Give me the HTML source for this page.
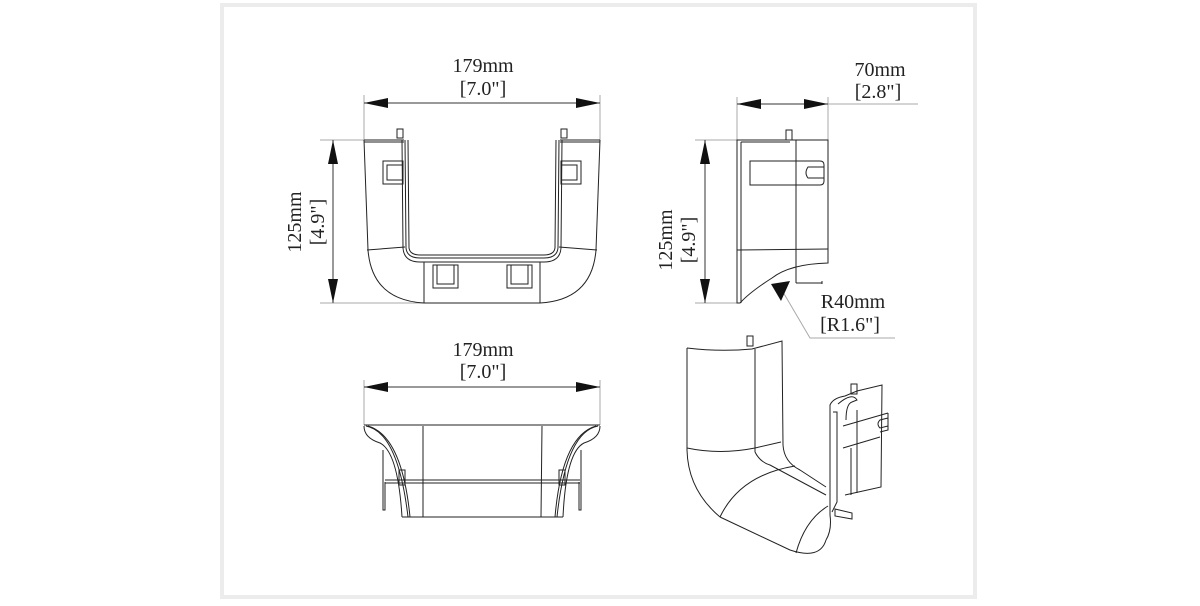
<!DOCTYPE html>
<html><head><meta charset="utf-8"><style>
html,body{margin:0;padding:0;background:#fff}
svg{display:block}
text{font-family:"Liberation Serif",serif;font-size:20px;fill:#222}
</style></head><body>
<svg width="1200" height="606" viewBox="0 0 1200 606" xmlns="http://www.w3.org/2000/svg">
<rect x="0" y="0" width="1200" height="606" fill="#fff"/>
<rect x="222" y="5" width="753" height="592" fill="none" stroke="#ececec" stroke-width="4"/>
<defs>
<marker id="a" markerWidth="24" markerHeight="10" refX="24" refY="5" orient="auto-start-reverse" markerUnits="userSpaceOnUse">
<path d="M0,0 L24,5 L0,10 Z" fill="#111"/></marker>
</defs>
<g stroke="#aaa" stroke-width="1" fill="none">
<line x1="364" y1="95" x2="364" y2="140"/><line x1="600" y1="95" x2="600" y2="140"/>
<line x1="320" y1="140" x2="400" y2="140"/><line x1="320" y1="303" x2="430" y2="303"/>
<line x1="364" y1="380" x2="364" y2="425"/><line x1="600" y1="380" x2="600" y2="425"/>
<line x1="737" y1="97" x2="737" y2="140"/><line x1="828" y1="97" x2="828" y2="140"/>
<line x1="828" y1="104" x2="918" y2="104"/>
<line x1="695" y1="140" x2="740" y2="140"/><line x1="695" y1="303" x2="740" y2="303"/>
<polyline points="783,292 810,338 895,338"/>
</g>
<g stroke="#333" stroke-width="1" fill="none">
<line x1="364" y1="103" x2="600" y2="103" marker-start="url(#a)" marker-end="url(#a)"/>
<line x1="333" y1="140" x2="333" y2="303" marker-start="url(#a)" marker-end="url(#a)"/>
<line x1="364" y1="387" x2="600" y2="387" marker-start="url(#a)" marker-end="url(#a)"/>
<line x1="737" y1="104" x2="828" y2="104" marker-start="url(#a)" marker-end="url(#a)"/>
<line x1="705" y1="140" x2="705" y2="303" marker-start="url(#a)" marker-end="url(#a)"/>
</g>
<path d="M771,284 L790,281 L781,301 Z" fill="#111"/>
<text x="483" y="72" text-anchor="middle">179mm</text>
<text x="483" y="95" text-anchor="middle">[7.0"]</text>
<text x="483" y="356" text-anchor="middle">179mm</text>
<text x="483" y="378" text-anchor="middle">[7.0"]</text>
<text x="880" y="76" text-anchor="middle">70mm</text>
<text x="878" y="98" text-anchor="middle">[2.8"]</text>
<text x="853" y="308" text-anchor="middle">R40mm</text>
<text x="850" y="331" text-anchor="middle">[R1.6"]</text>
<text transform="translate(301,222) rotate(-90)" text-anchor="middle">125mm</text>
<text transform="translate(324,222) rotate(-90)" text-anchor="middle">[4.9"]</text>
<text transform="translate(672,240) rotate(-90)" text-anchor="middle">125mm</text>
<text transform="translate(695,240) rotate(-90)" text-anchor="middle">[4.9"]</text>

<g stroke="#222" stroke-width="1" fill="none">
<path d="M364,140 L368,250 Q372,300 424,303 L540,303 Q592,300 596,250 L600,140"/>
<line x1="364" y1="140" x2="404" y2="140"/><line x1="560" y1="140" x2="600" y2="140"/>
<line x1="364" y1="142" x2="404" y2="142"/><line x1="560" y1="142" x2="600" y2="142"/>
<path d="M402,140 L403,248 Q404,262 420,262 L544,262 Q560,262 561,248 L562,140"/>
<path d="M405,140 L406,248 Q407,258 420,258 L544,258 Q557,258 558,248 L559,140"/>
<path d="M408,140 L409,248 Q410,255 420,255 L544,255 Q554,255 555,248 L556,140"/>
<line x1="367" y1="250" x2="405" y2="247"/><line x1="559" y1="247" x2="597" y2="250"/>
<line x1="424" y1="262" x2="424" y2="303"/><line x1="540" y1="262" x2="540" y2="303"/>
<rect x="383" y="161" width="20" height="23"/><rect x="387" y="165" width="16" height="15"/>
<rect x="561" y="161" width="20" height="23"/><rect x="561" y="165" width="16" height="15"/>
<rect x="433" y="265" width="25" height="23"/><rect x="437" y="265" width="17" height="19"/>
<rect x="507" y="265" width="25" height="23"/><rect x="511" y="265" width="17" height="19"/>
<rect x="397" y="129" width="6" height="9"/><rect x="561" y="129" width="6" height="9"/>

<line x1="364" y1="425" x2="600" y2="425"/>
<path d="M364,426 Q364,438 380,443 Q398,452 402,517"/>
<path d="M366,426 Q398,432 408,517"/>
<path d="M368,426 Q402,436 410,517"/>
<path d="M600,426 Q600,438 584,443 Q566,452 563,517"/>
<path d="M598,426 Q566,432 557,517"/>
<path d="M596,426 Q562,436 555,517"/>
<line x1="402" y1="517" x2="563" y2="517"/>
<line x1="423" y1="426" x2="423" y2="517"/><line x1="542" y1="426" x2="541" y2="517"/>
<line x1="385" y1="480" x2="580" y2="480"/><line x1="385" y1="483" x2="580" y2="483"/>
<polyline points="383,450 383,510 385,510 385,482"/>
<polyline points="581,450 581,510 579,510 579,482"/>
<rect x="399" y="470" width="6" height="15"/><rect x="559" y="470" width="6" height="15"/>

<path d="M737,140 L828,140 L828,263 Q790,264 772,278 Q750,292 740,303 L737,303 Z"/>
<line x1="741" y1="142" x2="741" y2="303"/>
<line x1="741" y1="142" x2="790" y2="142"/>
<line x1="796" y1="140" x2="796" y2="283"/><line x1="796" y1="283" x2="822" y2="283"/><line x1="822" y1="281" x2="822" y2="284"/>
<line x1="737" y1="250" x2="828" y2="249"/>
<path d="M750,161 L820,161 Q824,161 824,165 L824,181 Q824,185 820,185 L750,185 Z"/>
<path d="M824,167 L808,167 Q804,173 808,178 L824,178"/>
<rect x="786" y="130" width="6" height="10"/>

<path d="M687,348 Q720,352 752,349 L782,341 L783,445 Q784,462 800,470 L826,487"/>
<path d="M687,348 L687,450 Q688,490 720,517"/>
<path d="M720,517 L790,550 Q820,560 826,540"/>
<path d="M687,448 Q720,455 755,448 L781,442"/>
<line x1="755" y1="349" x2="755" y2="452"/>
<path d="M755,452 Q760,462 770,465 L826,495"/>
<path d="M720,517 Q740,475 795,466"/>
<path d="M796,553 Q805,520 828,506"/>
<path d="M826,540 Q832,530 830,515 L830,405 Q833,398 845,396 L857,391 L882,385 L881,487 L845,495"/>
<path d="M833,412 L837,412 L837,502 L832,512"/>
<path d="M838,404 Q852,392 857,400 L852,402 Q846,404 846,420"/>
<line x1="843" y1="426" x2="888" y2="413"/><line x1="843" y1="448" x2="880" y2="437"/>
<path d="M888,413 L888,430 L880,432 M888,418 L880,420 Q876,424 880,428 L888,426"/>
<line x1="851" y1="448" x2="851" y2="495"/><line x1="857" y1="410" x2="857" y2="493"/>
<rect x="747" y="336" width="6" height="10"/><rect x="851" y="384" width="6" height="10"/>
<path d="M835,509 L852,513 L852,519 L835,516 Z"/>
</g>
</svg>
</body></html>
